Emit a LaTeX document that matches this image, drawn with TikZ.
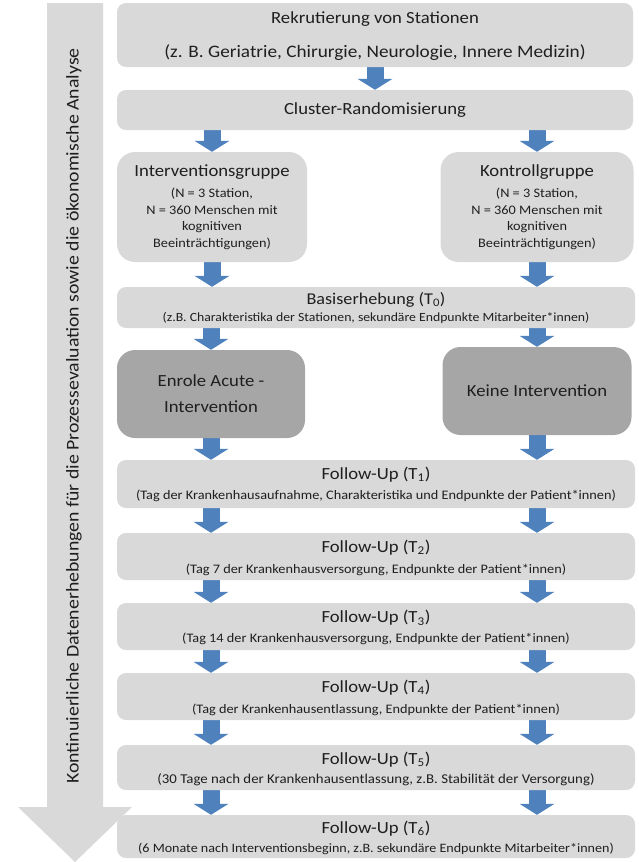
\documentclass[tikz,border=0pt]{standalone}
\usepackage{fontspec}
\setmainfont{Carlito}[FakeStretch=1.1]
\usetikzlibrary{arrows.meta,backgrounds}

\definecolor{boxgray}{HTML}{D9D9D9}
\definecolor{boxdark}{HTML}{A6A6A6}
\definecolor{arrowblue}{HTML}{4F81BD}
\definecolor{textgray}{HTML}{1F1F1F}

\newcommand{\titlefont}{\fontsize{17}{20}\selectfont}
\newcommand{\subfont}{\fontsize{13}{15}\selectfont}

\begin{document}
\begin{tikzpicture}[x=1pt, y=-1pt,
    box/.style={rectangle, fill=boxgray, rounded corners=9pt, align=center, text=textgray, font=\titlefont, inner sep=0pt},
    groupbox/.style={box, rounded corners=18pt, font=\fontsize{13}{16.5}\selectfont},
    darkbox/.style={box, fill=boxdark, rounded corners=18pt},
    wide/.style={minimum width=518pt},
    followup/.style={box, wide, text depth=0pt},
    blockarrow/.style={line width=17pt, draw=arrowblue, -{Triangle[width=35pt, length=11pt, line width=0pt]}}
]
    \useasboundingbox (0,0) rectangle (639,862);

    % Continuous data collection (big arrow on the left)
    \fill[boxgray] (47,3) -- (103,3) -- (103,807) -- (132,807) -- (75,862) -- (18,807) -- (47,807) -- cycle;
    \node[rotate=90, text=textgray, font=\fontsize{18}{20}\selectfont] (band) at (74,416)
        {Kontinuierliche Datenerhebungen für die Prozessevaluation sowie die ökonomische Analyse};

    % Recruitment and randomisation
    \node[box, minimum width=516pt, minimum height=64pt, text depth=0pt] (rekrut) at (375,35)
        {Rekrutierung von Stationen\\[14pt] {\fontsize{17.5}{20}\selectfont (z. B. Geriatrie, Chirurgie, Neurologie, Innere Medizin)}};
    \node[box, minimum width=516pt, minimum height=40pt] (cluster) at (375,110) {Cluster-Randomisierung};

    % Groups
    \node[groupbox, minimum width=190pt, minimum height=110pt] (igruppe) at (212,207)
        {{\titlefont Interventionsgruppe}\\[5pt] (N = 3 Station,\\ N = 360 Menschen mit\\ kognitiven\\ Beeinträchtigungen)};
    \node[groupbox, minimum width=193pt, minimum height=110pt] (kgruppe) at (537,207)
        {{\titlefont Kontrollgruppe}\\[5pt] (N = 3 Station,\\ N = 360 Menschen mit\\ kognitiven\\ Beeinträchtigungen)};

    % Baseline
    \node[box, wide, minimum height=41pt, font=\fontsize{12.5}{16}\selectfont] (basis) at (376,307.5)
        {{\fontsize{16.5}{19}\selectfont Basiserhebung (T\textsubscript{0})}\\[1pt] (z.B. Charakteristika der Stationen, sekundäre Endpunkte Mitarbeiter*innen)};

    % Intervention / control
    \node[darkbox, minimum width=188pt, minimum height=88pt] (enrole) at (211,394)
        {Enrole Acute -\\[6pt] Intervention};
    \node[darkbox, minimum width=189pt, minimum height=88pt] (keine) at (537,391) {Keine Intervention};

    % Follow-ups
    \node[box, wide, minimum height=48pt, font=\subfont] (t1) at (376,484)
        {{\titlefont Follow-Up (T\textsubscript{1})}\\[5pt] (Tag der Krankenhausaufnahme, Charakteristika und Endpunkte der Patient*innen)};
    \node[followup, minimum height=47pt, font=\subfont] (t2) at (376,556.5)
        {{\titlefont Follow-Up (T\textsubscript{2})}\\[6pt] (Tag 7 der Krankenhausversorgung, Endpunkte der Patient*innen)};
    \node[followup, minimum height=47pt, font=\subfont] (t3) at (376,626.5)
        {{\titlefont Follow-Up (T\textsubscript{3})}\\[5pt] (Tag 14 der Krankenhausversorgung, Endpunkte der Patient*innen)};
    \node[followup, minimum height=47pt, font=\subfont] (t4) at (376,696.5)
        {{\titlefont Follow-Up (T\textsubscript{4})}\\[6pt] (Tag der Krankenhausentlassung, Endpunkte der Patient*innen)};
    \node[followup, minimum height=45pt, font=\fontsize{13.5}{15}\selectfont] (t5) at (376,767.5)
        {{\titlefont Follow-Up (T\textsubscript{5})}\\[4pt] (30 Tage nach der Krankenhausentlassung, z.B. Stabilität der Versorgung)};
    \node[followup, minimum height=43pt, font=\fontsize{12.8}{15}\selectfont] (t6) at (376,836.5)
        {{\titlefont Follow-Up (T\textsubscript{6})}\\[4pt] (6 Monate nach Interventionsbeginn, z.B. sekundäre Endpunkte Mitarbeiter*innen)};

    % Block arrows
    \begin{scope}[on background layer]
    \draw[blockarrow] (rekrut) -- (cluster);
    \draw[blockarrow] (cluster.south -| igruppe) -- (igruppe);
    \draw[blockarrow] (cluster.south -| kgruppe) -- (kgruppe);
    \draw[blockarrow] (igruppe) -- (basis.north -| igruppe);
    \draw[blockarrow] (kgruppe) -- (basis.north -| kgruppe);
    \draw[blockarrow] (basis.south -| enrole) -- (enrole);
    \draw[blockarrow] (basis.south -| keine) -- (keine);
    \draw[blockarrow] (enrole) -- (t1.north -| enrole);
    \draw[blockarrow] (keine) -- (t1.north -| keine);
    \draw[blockarrow] (t1.south -| enrole) -- (t2.north -| enrole);
    \draw[blockarrow] (t1.south -| keine) -- (t2.north -| keine);
    \draw[blockarrow] (t2.south -| enrole) -- (t3.north -| enrole);
    \draw[blockarrow] (t2.south -| keine) -- (t3.north -| keine);
    \draw[blockarrow] (t3.south -| enrole) -- (t4.north -| enrole);
    \draw[blockarrow] (t3.south -| keine) -- (t4.north -| keine);
    \draw[blockarrow] (t4.south -| enrole) -- (t5.north -| enrole);
    \draw[blockarrow] (t4.south -| keine) -- (t5.north -| keine);
    \draw[blockarrow] (t5.south -| enrole) -- (t6.north -| enrole);
    \draw[blockarrow] (t5.south -| keine) -- (t6.north -| keine);
    \end{scope}
\end{tikzpicture}
\end{document}
